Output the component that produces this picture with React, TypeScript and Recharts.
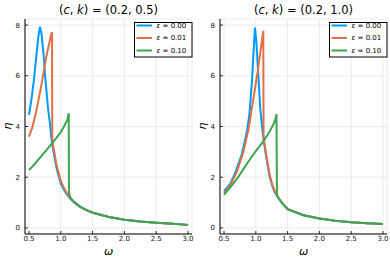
import React from 'react';
import { LineChart, Line, XAxis, YAxis, CartesianGrid, Legend, Customized } from 'recharts';

// ---- data ----
const omegaTicks = [0.5, 1.0, 1.5, 2.0, 2.5, 3.0];
const etaTicks = [0, 2, 4, 6, 8];
const epsLabels = ['0.00', '0.01', '0.10'];
const seriesColors = ['#009AFA', '#E26F46', '#3EA44E'];
const cValues = ['0.2', '0.2'];
const kValues = ['0.5', '1.0'];

// panel 1: (c,k) = (0.2, 0.5)
const omegaL0 = [0.50, 0.54, 0.58, 0.62, 0.65, 0.673, 0.70, 0.73, 0.76, 0.80, 0.825, 0.862, 0.90, 0.94, 1.00, 1.05, 1.10, 1.15, 1.20, 1.30, 1.40, 1.50, 1.75, 2.00, 2.25, 2.50, 2.75, 3.00];
const etaL0 = [4.46, 5.1, 5.9, 6.9, 7.6, 7.94, 7.6, 6.8, 5.8, 4.7, 4.2, 3.33, 2.8, 2.28, 1.75, 1.5, 1.3, 1.15, 1.02, 0.83, 0.7, 0.6, 0.43, 0.32, 0.25, 0.2, 0.16, 0.12];

const omegaL1 = [0.50, 0.55, 0.60, 0.65, 0.70, 0.74, 0.78, 0.82, 0.845, 0.862, 0.866, 0.90, 0.94, 1.00, 1.05, 1.10, 1.15, 1.20, 1.30, 1.40, 1.50, 1.75, 2.00, 2.25, 2.50, 2.75, 3.00];
const etaL1 = [3.6, 3.95, 4.45, 5.05, 5.7, 6.3, 6.85, 7.3, 7.6, 7.72, 3.45, 2.95, 2.4, 1.85, 1.57, 1.35, 1.18, 1.04, 0.84, 0.7, 0.6, 0.43, 0.32, 0.25, 0.2, 0.16, 0.12];

const omegaL2 = [0.50, 0.60, 0.70, 0.80, 0.90, 1.00, 1.05, 1.10, 1.125, 1.128, 1.15, 1.20, 1.30, 1.40, 1.50, 1.75, 2.00, 2.25, 2.50, 2.75, 3.00];
const etaL2 = [2.28, 2.55, 2.85, 3.15, 3.45, 3.78, 4.0, 4.25, 4.52, 1.40, 1.2, 1.05, 0.85, 0.71, 0.61, 0.44, 0.32, 0.25, 0.2, 0.16, 0.12];

// panel 2: (c,k) = (0.2, 1.0)
const omegaR0 = [0.50, 0.60, 0.68, 0.78, 0.86, 0.90, 0.94, 0.97, 0.987, 1.01, 1.04, 1.07, 1.10, 1.13, 1.16, 1.19, 1.22, 1.26, 1.30, 1.35, 1.40, 1.50, 1.75, 2.00, 2.25, 2.50, 2.75, 3.00];
const etaR0 = [1.45, 1.75, 2.2, 2.9, 3.8, 4.5, 5.8, 7.2, 7.9, 7.3, 6.0, 4.7, 3.95, 3.35, 2.85, 2.4, 2.0, 1.65, 1.4, 1.2, 1.02, 0.74, 0.5, 0.37, 0.28, 0.22, 0.18, 0.15];

const omegaR1 = [0.50, 0.60, 0.70, 0.80, 0.89, 0.95, 1.00, 1.03, 1.07, 1.10, 1.118, 1.122, 1.13, 1.16, 1.19, 1.22, 1.26, 1.30, 1.35, 1.40, 1.50, 1.75, 2.00, 2.25, 2.50, 2.75, 3.00];
const etaR1 = [1.38, 1.68, 2.2, 2.95, 3.95, 4.9, 5.7, 6.17, 6.9, 7.45, 7.77, 3.65, 3.45, 2.95, 2.5, 2.08, 1.7, 1.44, 1.22, 1.03, 0.74, 0.5, 0.37, 0.28, 0.22, 0.18, 0.15];

const omegaR2 = [0.50, 0.60, 0.70, 0.80, 0.90, 1.00, 1.10, 1.20, 1.28, 1.31, 1.325, 1.333, 1.35, 1.40, 1.50, 1.75, 2.00, 2.25, 2.50, 2.75, 3.00];
const etaR2 = [1.3, 1.6, 1.92, 2.3, 2.68, 3.03, 3.35, 3.72, 4.1, 4.3, 4.49, 1.28, 1.2, 1.03, 0.74, 0.5, 0.37, 0.28, 0.22, 0.18, 0.15];

const zip = (xs: number[], ys: number[]) => xs.map((x, i) => ({ omega: x, eta: ys[i] }));

const panels = [
  { c: cValues[0], k: kValues[0], series: [zip(omegaL0, etaL0), zip(omegaL1, etaL1), zip(omegaL2, etaL2)] },
  { c: cValues[1], k: kValues[1], series: [zip(omegaR0, etaR0), zip(omegaR1, etaR1), zip(omegaR2, etaR2)] },
];

const FONT = 'DejaVu Sans';

const LegendBox = () => (
  <svg width={59} height={36} style={{ display: 'block' }}>
    <rect x={0.5} y={0.5} width={57.5} height={34.5} fill="#fff" stroke="#000" strokeWidth={1} />
    {epsLabels.map((lab, i) => (
      <g key={lab}>
        <line x1={2.5} x2={18} y1={3.5 + i * 12.5} y2={3.5 + i * 12.5} stroke={seriesColors[i]} strokeWidth={2} />
        <text x={22.5} y={3.5 + i * 12.5} dy="0.35em" fontSize={7} fontFamily={FONT} fill="#000">
          <tspan fontStyle="italic">ε</tspan>
          <tspan> = {lab}</tspan>
        </text>
      </g>
    ))}
  </svg>
);

function Panel({ c, k, series }: { c: string; k: string; series: { omega: number; eta: number }[][] }) {
  return (
    <LineChart width={195} height={260} margin={{ top: 19, right: 3, bottom: 0, left: 0 }}>
      <CartesianGrid stroke="#e6e6e6" strokeWidth={0.8} />
      <XAxis
        type="number"
        dataKey="omega"
        domain={[0.437, 3.063]}
        ticks={omegaTicks}
        allowDataOverflow
        tickFormatter={(v: number) => v.toFixed(1)}
        height={26}
        tickSize={-3}
        tickMargin={5}
        axisLine={{ stroke: '#000', strokeWidth: 1 }}
        tickLine={{ stroke: '#000', strokeWidth: 0.8 }}
        tick={{ fontSize: 7, fill: '#111', fontFamily: FONT }}
      />
      <YAxis
        type="number"
        dataKey="eta"
        domain={[-0.24, 8.24]}
        ticks={etaTicks}
        allowDataOverflow
        width={25}
        tickSize={-3}
        tickMargin={8}
        axisLine={{ stroke: '#000', strokeWidth: 1 }}
        tickLine={{ stroke: '#000', strokeWidth: 0.8 }}
        tick={{ fontSize: 7, fill: '#111', fontFamily: FONT }}
      />
      {series.map((d, i) => (
        <Line
          key={i}
          data={d}
          dataKey="eta"
          name={`ε = ${epsLabels[i]}`}
          type="linear"
          stroke={seriesColors[i]}
          strokeWidth={2}
          dot={false}
          activeDot={false}
          isAnimationActive={false}
        />
      ))}
      <Legend
        verticalAlign="middle"
        align="center"
        layout="horizontal"
        content={() => <LegendBox />}
        wrapperStyle={{ position: 'absolute', left: 134, top: 22, width: 59, height: 36, margin: 0, padding: 0 }}
      />
      <Customized
        component={() => (
          <g>
            <text x={108.5} y={10} dy="0.35em" textAnchor="middle" fontSize={11.5} fontFamily={FONT} fill="#000">
              (<tspan fontStyle="italic">c</tspan>, <tspan fontStyle="italic">k</tspan>) = ({c}, {k})
            </text>
            <text x={108.5} y={251} dy="0.35em" textAnchor="middle" fontSize={11} fontStyle="italic" fontFamily={FONT} fill="#000">
              ω
            </text>
            <text x={7} y={126} dy="0.35em" textAnchor="middle" fontSize={11} fontStyle="italic" fontFamily={FONT} fill="#000" transform="rotate(-90 7 126)">
              η
            </text>
          </g>
        )}
      />
    </LineChart>
  );
}

export default function App() {
  return (
    <div style={{ position: 'absolute', left: 0, top: 0, width: 390, height: 260, background: '#fff' }}>
      {panels.map((p, i) => (
        <div key={i} style={{ position: 'absolute', left: i * 195, top: 0, width: 195, height: 260 }}>
          <Panel c={p.c} k={p.k} series={p.series} />
        </div>
      ))}
    </div>
  );
}
